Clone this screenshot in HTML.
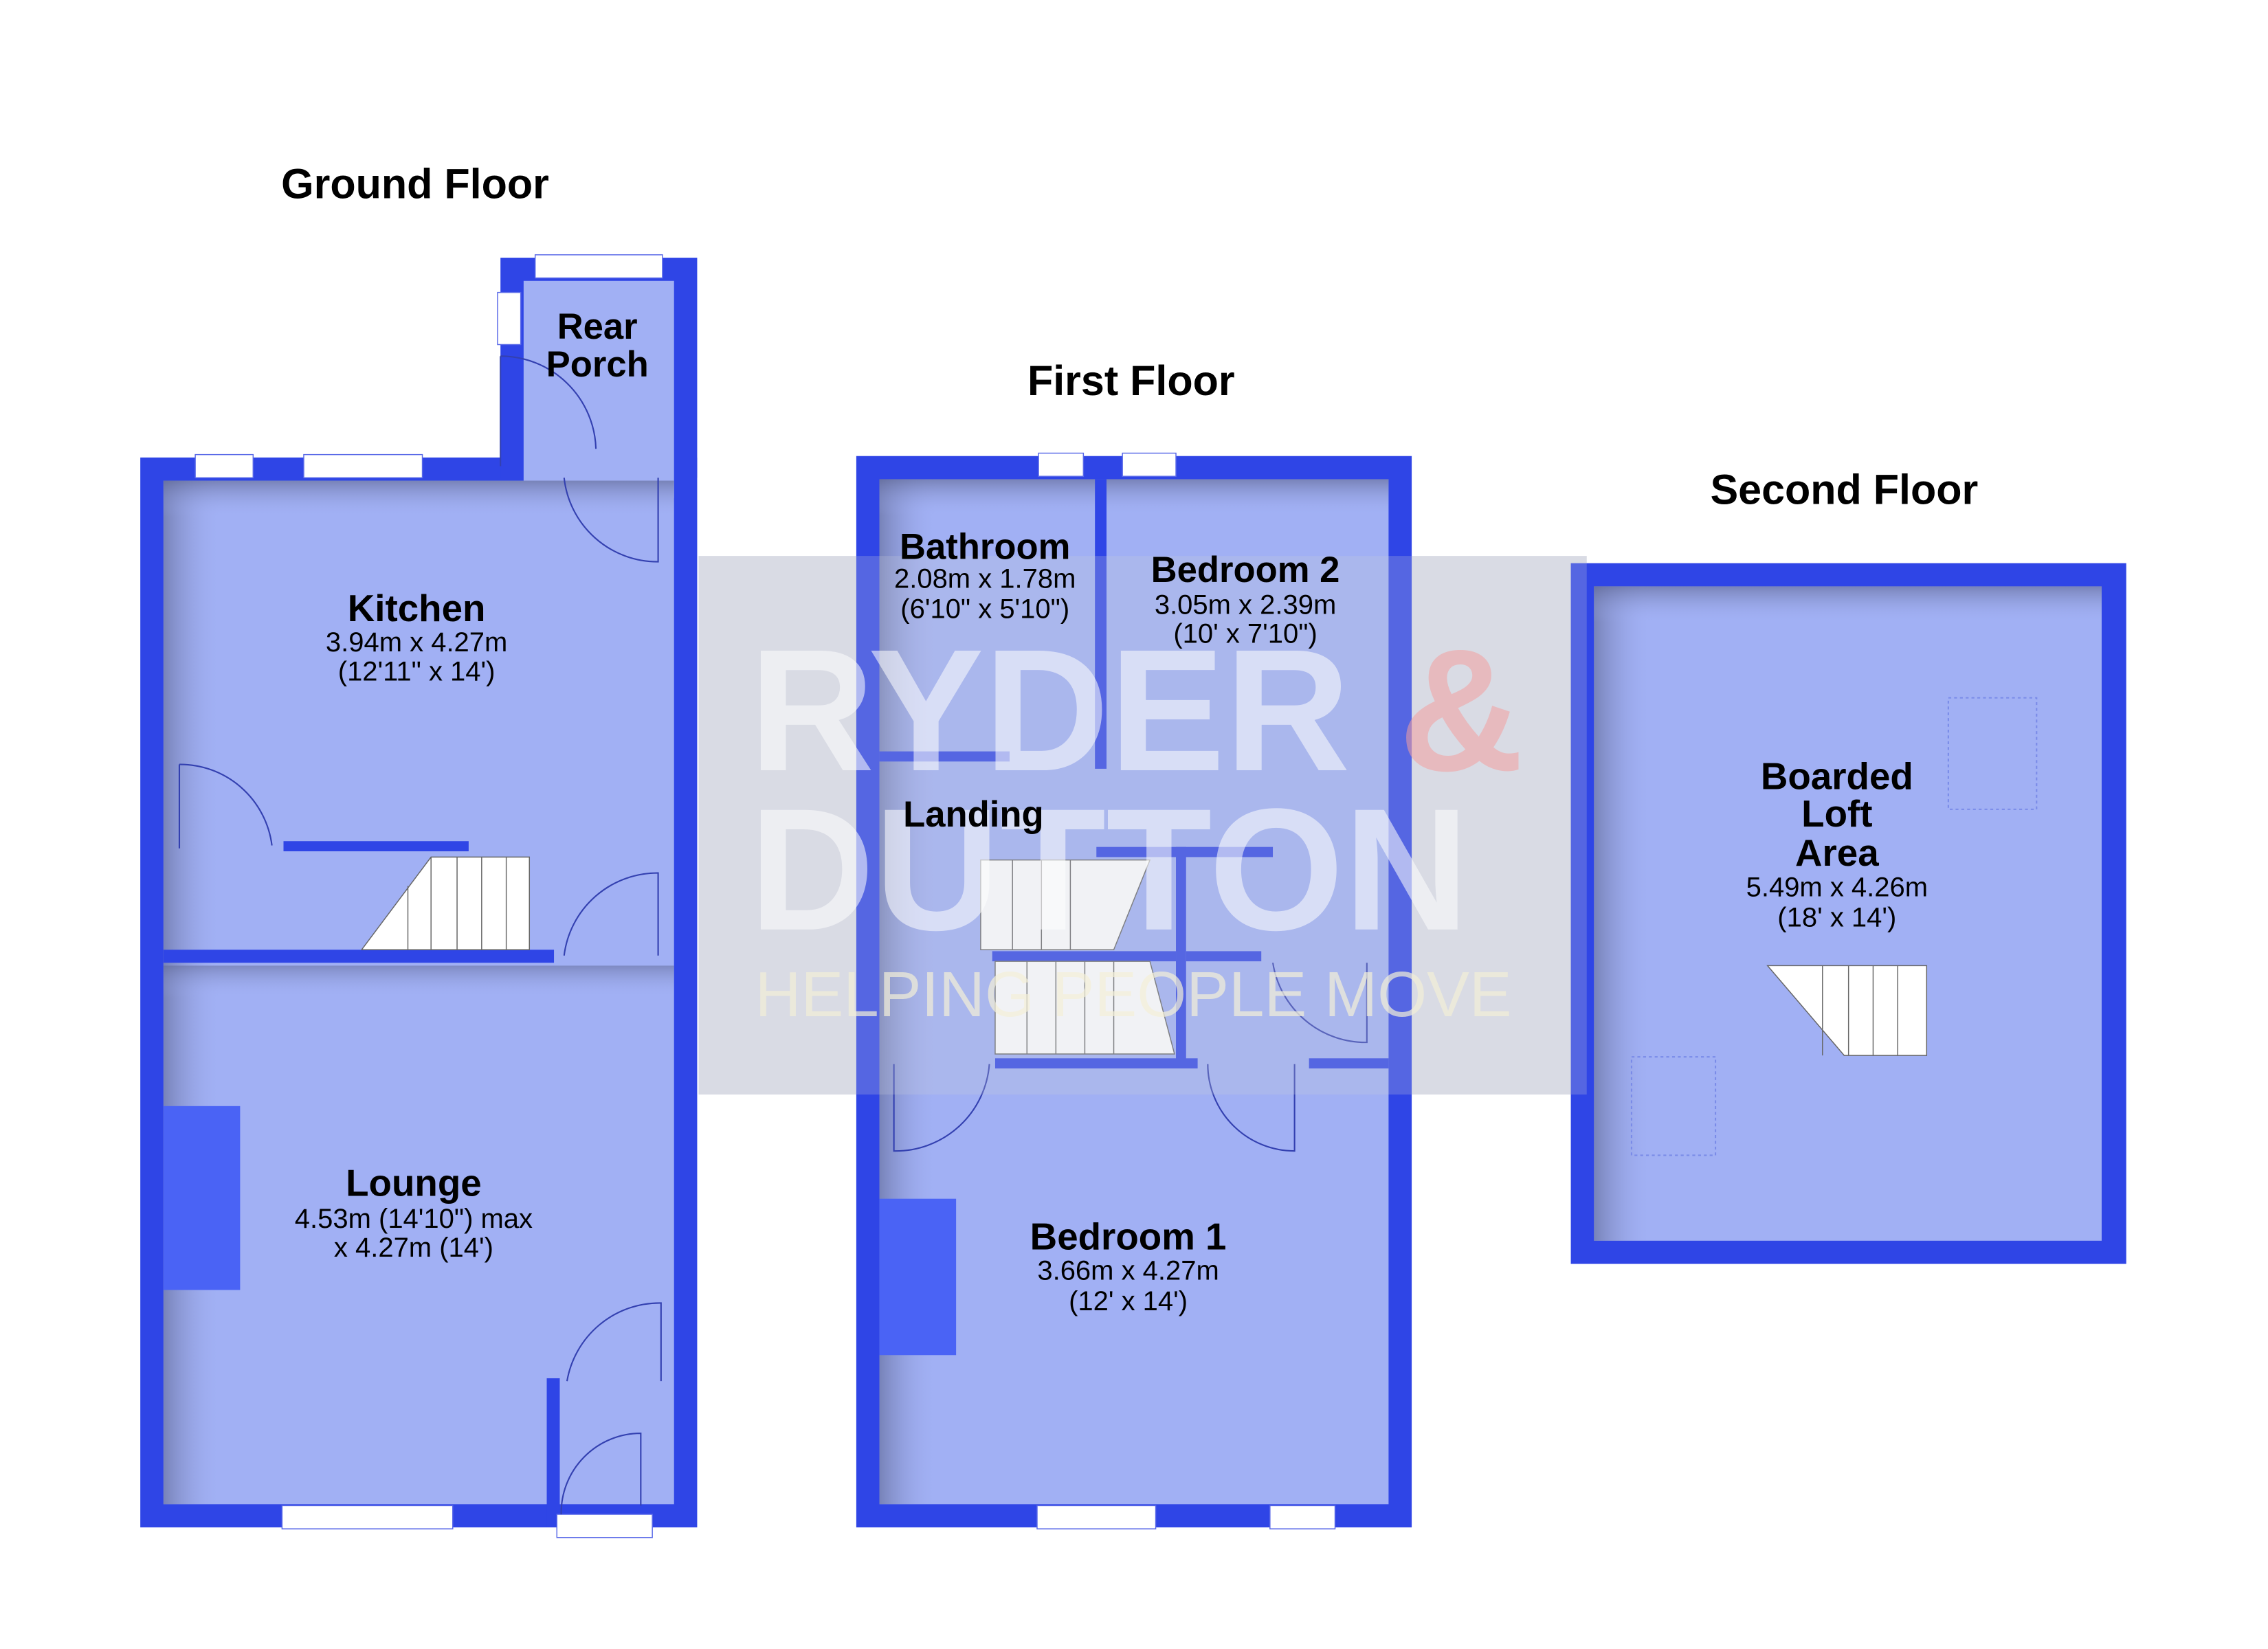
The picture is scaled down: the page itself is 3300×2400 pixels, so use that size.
<!DOCTYPE html>
<html><head><style>html,body{margin:0;padding:0;background:#fff}svg{display:block}</style></head>
<body>
<svg width="3300" height="2400" viewBox="0 0 1568 1139" preserveAspectRatio="none" xmlns="http://www.w3.org/2000/svg" font-family="Liberation Sans, sans-serif">
<defs>
<linearGradient id="sh" x1="0" x2="1"><stop offset="0" stop-color="#5c6490"/><stop offset="1" stop-color="#a1b0f4" stop-opacity="0"/></linearGradient>
<linearGradient id="shv" x1="0" y1="0" x2="0" y2="1"><stop offset="0" stop-color="#5c6490"/><stop offset="1" stop-color="#a1b0f4" stop-opacity="0"/></linearGradient>
</defs>
<rect width="1568" height="1139" fill="#fff"/>
<rect x="483" y="384" width="614" height="372" fill="#dfe1e8"/>
<!-- Ground floor -->
<g>
<rect x="97" y="316" width="385" height="739" fill="#2f45e6"/>
<rect x="346" y="178" width="136" height="152" fill="#2f45e6"/>
<rect x="113" y="332" width="353" height="707" fill="#a1b0f4"/>
<rect x="362" y="194" width="104" height="150" fill="#a1b0f4"/>
<rect x="113" y="332" width="40" height="707" fill="url(#sh)" opacity="0.6"/>
<rect x="113" y="332" width="353" height="25" fill="url(#shv)" opacity="0.6"/>
<rect x="113" y="667" width="353" height="22" fill="url(#shv)" opacity="0.5"/>
<rect x="113" y="656" width="270" height="9" fill="#2f45e6"/>
<rect x="196" y="581" width="128" height="7" fill="#2f45e6"/>
<rect x="378" y="952" width="9" height="103" fill="#2f45e6"/>
<rect x="113" y="764" width="53" height="127" fill="#4a63f5"/>
<rect x="135" y="314" width="40" height="16" fill="#fff" stroke="#5a6ae8" stroke-width="0.7"/>
<rect x="210" y="314" width="82" height="16" fill="#fff" stroke="#5a6ae8" stroke-width="0.7"/>
<rect x="195" y="1040" width="118" height="16" fill="#fff" stroke="#5a6ae8" stroke-width="0.7"/>
<rect x="370" y="176" width="88" height="16" fill="#fff" stroke="#5a6ae8" stroke-width="0.7"/>
<rect x="344" y="202" width="16" height="36" fill="#fff" stroke="#5a6ae8" stroke-width="0.7"/>
<rect x="385" y="1046" width="66" height="16" fill="#fff" stroke="#5a6ae8" stroke-width="0.7"/>
<g fill="none" stroke="#3340b0" stroke-width="1">
<path d="M346 246 v76 M346 246 A66 66 0 0 1 412 310"/>
<path d="M390 330 A65 65 0 0 0 455 388 V330"/>
<path d="M124 528 v58 M124 528 A64 64 0 0 1 188 584"/>
<path d="M390 660 A65 65 0 0 1 455 603 V660"/>
<path d="M392 954 A65 65 0 0 1 457 900 V954"/>
<path d="M388 1046 A55 55 0 0 1 443 990 V1040"/>
</g>
<path d="M250 656 L298 592 H366 V656 Z" fill="#fff" stroke="#666" stroke-width="0.7"/>
<g stroke="#666" stroke-width="0.7"><line x1="282" y1="612" x2="282" y2="656"/><line x1="298" y1="592" x2="298" y2="656"/><line x1="316" y1="592" x2="316" y2="656"/><line x1="333" y1="592" x2="333" y2="656"/><line x1="350" y1="592" x2="350" y2="656"/></g>
</g>
<!-- First floor -->
<g>
<rect x="592" y="315" width="384" height="740" fill="#2f45e6"/>
<rect x="608" y="331" width="352" height="708" fill="#a1b0f4"/>
<rect x="608" y="331" width="40" height="708" fill="url(#sh)" opacity="0.6"/>
<rect x="608" y="331" width="352" height="25" fill="url(#shv)" opacity="0.6"/>
<rect x="757" y="331" width="8" height="200" fill="#2f45e6"/>
<rect x="608" y="519" width="90" height="7" fill="#2f45e6"/>
<rect x="758" y="585" width="122" height="7" fill="#2f45e6"/>
<rect x="813" y="585" width="7" height="150" fill="#2f45e6"/>
<rect x="820" y="657" width="52" height="7" fill="#2f45e6"/>
<rect x="905" y="731" width="55" height="7" fill="#2f45e6"/>
<rect x="688" y="731" width="140" height="7" fill="#2f45e6"/>
<rect x="686" y="657" width="127" height="7" fill="#2f45e6"/>
<rect x="608" y="828" width="53" height="108" fill="#4a63f5"/>
<rect x="718" y="313" width="31" height="16" fill="#fff" stroke="#5a6ae8" stroke-width="0.7"/>
<rect x="776" y="313" width="37" height="16" fill="#fff" stroke="#5a6ae8" stroke-width="0.7"/>
<rect x="717" y="1040" width="82" height="16" fill="#fff" stroke="#5a6ae8" stroke-width="0.7"/>
<rect x="878" y="1040" width="45" height="16" fill="#fff" stroke="#5a6ae8" stroke-width="0.7"/>
<path d="M678 594 H795 L770 656 H678 Z" fill="#fff" stroke="#666" stroke-width="0.7"/>
<path d="M688 664 H795 L812 728 H688 Z" fill="#fff" stroke="#666" stroke-width="0.7"/>
<g stroke="#666" stroke-width="0.7"><line x1="700" y1="594" x2="700" y2="656"/><line x1="720" y1="594" x2="720" y2="656"/><line x1="740" y1="594" x2="740" y2="656"/><line x1="710" y1="664" x2="710" y2="728"/><line x1="730" y1="664" x2="730" y2="728"/><line x1="750" y1="664" x2="750" y2="728"/><line x1="770" y1="664" x2="770" y2="728"/></g>
<g fill="none" stroke="#3340b0" stroke-width="1">
<path d="M618 735 V795 A65 65 0 0 0 684 735"/>
<path d="M835 735 A60 60 0 0 0 895 795 V735"/>
<path d="M880 665 A65 65 0 0 0 945 720 V665"/>
</g>
</g>
<!-- Second floor -->
<g>
<rect x="1086" y="389" width="384" height="484" fill="#2f45e6"/>
<rect x="1102" y="405" width="351" height="452" fill="#a1b0f4"/>
<rect x="1102" y="405" width="40" height="452" fill="url(#sh)" opacity="0.6"/>
<rect x="1102" y="405" width="351" height="25" fill="url(#shv)" opacity="0.6"/>
<rect x="1347" y="482" width="61" height="77" fill="none" stroke="#7a8be8" stroke-dasharray="2,2"/>
<rect x="1128" y="730" width="58" height="68" fill="none" stroke="#7a8be8" stroke-dasharray="2,2"/>
<path d="M1222 667 H1332 V729 H1275 Z" fill="#fff" stroke="#666" stroke-width="0.7"/>
<g stroke="#666" stroke-width="0.7"><line x1="1260" y1="667" x2="1260" y2="729"/><line x1="1278" y1="667" x2="1278" y2="729"/><line x1="1295" y1="667" x2="1295" y2="729"/><line x1="1312" y1="667" x2="1312" y2="729"/></g>
</g>
<!-- watermark overlay -->
<rect x="483" y="384" width="614" height="372" fill="#c8ccd8" opacity="0.25"/>
<g font-weight="bold" fill="#fff" opacity="0.55" font-size="120">
<text x="518" y="532">RYDER <tspan fill="#f4a0a0">&amp;</tspan></text>
<text x="518" y="642">DUTTON</text>
</g>
<text x="522" y="702" font-size="44" fill="#f4f0d8" opacity="0.7">HELPING PEOPLE MOVE</text>
<!-- text -->
<g fill="#000" text-anchor="middle">
<text x="287" y="137" font-size="29" font-weight="bold">Ground Floor</text>
<text x="782" y="273" font-size="29" font-weight="bold">First Floor</text>
<text x="1275" y="348" font-size="29" font-weight="bold">Second Floor</text>
<text x="413" y="234" font-size="25" font-weight="bold">Rear</text>
<text x="413" y="260" font-size="25" font-weight="bold">Porch</text>
<text x="288" y="429" font-size="26" font-weight="bold">Kitchen</text>
<text x="288" y="450" font-size="19">3.94m x 4.27m</text>
<text x="288" y="470" font-size="19">(12'11" x 14')</text>
<text x="286" y="826" font-size="26" font-weight="bold">Lounge</text>
<text x="286" y="848" font-size="19">4.53m (14'10") max</text>
<text x="286" y="868" font-size="19">x 4.27m (14')</text>
<text x="681" y="386" font-size="25" font-weight="bold">Bathroom</text>
<text x="681" y="406" font-size="19">2.08m x 1.78m</text>
<text x="681" y="427" font-size="19">(6'10" x 5'10")</text>
<text x="861" y="402" font-size="25" font-weight="bold">Bedroom 2</text>
<text x="861" y="424" font-size="19">3.05m x 2.39m</text>
<text x="861" y="444" font-size="19">(10' x 7'10")</text>
<text x="673" y="571" font-size="25" font-weight="bold">Landing</text>
<text x="780" y="863" font-size="26" font-weight="bold">Bedroom 1</text>
<text x="780" y="884" font-size="19">3.66m x 4.27m</text>
<text x="780" y="905" font-size="19">(12' x 14')</text>
<text x="1270" y="545" font-size="26" font-weight="bold">Boarded</text>
<text x="1270" y="571" font-size="26" font-weight="bold">Loft</text>
<text x="1270" y="598" font-size="26" font-weight="bold">Area</text>
<text x="1270" y="619" font-size="19">5.49m x 4.26m</text>
<text x="1270" y="640" font-size="19">(18' x 14')</text>
</g>
</svg>
</body></html>
